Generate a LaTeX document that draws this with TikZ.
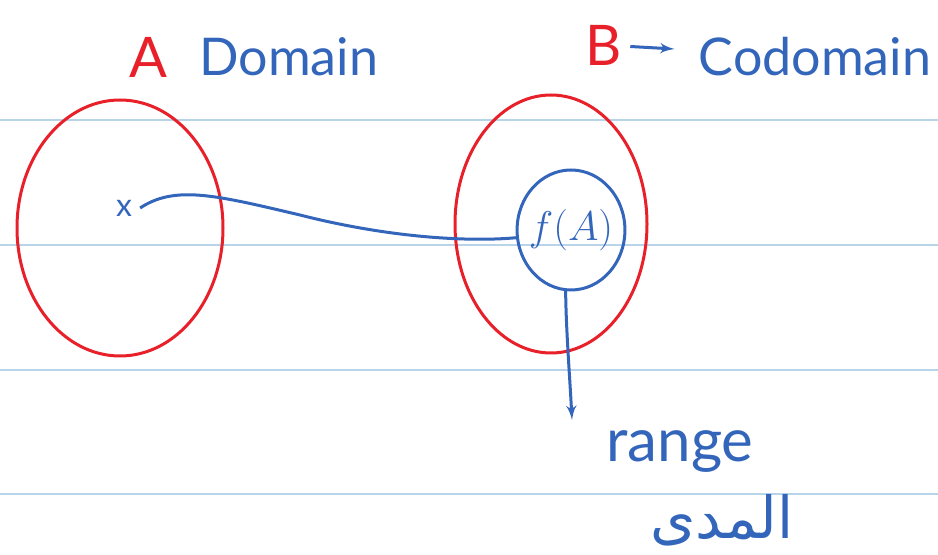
\documentclass[tikz,border=0pt]{standalone}
\usepackage{fontspec}
\setmainfont{Lato}
\newfontfamily\arabicfont[Script=Arabic]{DejaVu Sans}
\TeXXeTstate=1
\usepackage{xcolor}
\usetikzlibrary{positioning}
\usetikzlibrary{arrows}
\usetikzlibrary{shapes.geometric}
\definecolor{inkred}{HTML}{E8202A}
\definecolor{inkblue}{HTML}{3366BB}
\definecolor{ruleblue}{HTML}{B8D4E8}
\tikzset{edge/.style = {->,> = latex'}}

\begin{document}
\begin{tikzpicture}[x=0.5pt,y=-0.5pt,line width=1.5pt,
  set node/.style={ellipse,draw=inkred,minimum width=103pt,minimum height=128pt,inner sep=0pt},
  blue text/.style={text=inkblue,font=\fontsize{26}{30}\selectfont},
  red text/.style={text=inkred,font=\fontsize{28}{32}\selectfont}]
  \useasboundingbox (0,0) rectangle (938,555);
  % notebook lines
  \foreach \y in {120,245,370,494}
    \draw[ruleblue,line width=1pt] (0,\y) -- (938,\y);

  \node[set node] (A) at (120,228) {};
  \node[set node, minimum width=96pt, minimum height=129pt] (B) at (551,224) {};
  \node[ellipse,draw=inkblue,minimum width=46pt,minimum height=60pt,inner sep=-2pt,text=inkblue,font=\fontsize{22}{26}\selectfont] (fA) at (571,230) {$f(A)$};

  \node[red text] (Alabel) at (148,57) {A};
  \node[blue text, right=8pt of Alabel] (domain) {Domain};
  \node[red text] (Blabel) at (604,45) {B};
  \node[blue text] (codomain) at (815,57) {Codomain};
  \draw[edge,inkblue,shorten >=8pt] (Blabel) -- (codomain);

  \node[text=inkblue,font=\fontsize{16}{18}\selectfont] (xpt) at (124,208) {x};
  \draw[inkblue] (xpt.east) .. controls (175,185) and (215,195) .. (300,215)
    .. controls (390,238) and (470,242) .. (fA.188);

  \node[blue text,font=\fontsize{30}{34}\selectfont] (range) at (680,452) {range};
  \coordinate (rangeTip) at (572,420);
  \draw[edge,inkblue] (fA.265) .. controls (566,330) and (570,380) .. (rangeTip);
  \node[blue text,font=\fontsize{29}{34}\selectfont] (mada) at (722,520) {\arabicfont\beginR المدى\endR};
\end{tikzpicture}
\end{document}
